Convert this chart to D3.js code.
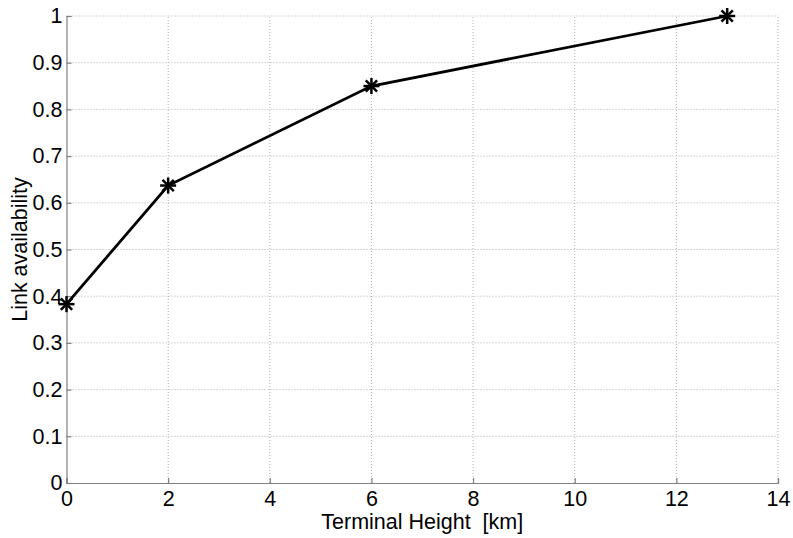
<!DOCTYPE html>
<html>
<head>
<meta charset="utf-8">
<script src="https://cdn.jsdelivr.net/npm/d3@7"></script>
<style>
  body { margin: 0; background: #fff; }
  text { font-family: "Liberation Sans", Arial, sans-serif; }
</style>
</head>
<body>
<script>
// values
let heights = [0, 2, 6, 13];
let availability = [0.383, 0.637, 0.85, 1.0];
let xTicks = [0, 2, 4, 6, 8, 10, 12, 14];
let yTicks = [0, 0.1, 0.2, 0.3, 0.4, 0.5, 0.6, 0.7, 0.8, 0.9, 1];

const width = 793, height = 538;
const margin = {left: 66.5, right: 15, top: 16, bottom: 55};
const fs = "21.5px";

const svg = d3.select("body").append("svg")
    .attr("width", width)
    .attr("height", height);

const x = d3.scaleLinear().domain([0, 14]).range([margin.left, width - margin.right]);
const y = d3.scaleLinear().domain([0, 1]).range([height - margin.bottom, margin.top]);

// grid
svg.append("g").selectAll("line")
    .data(xTicks.slice(1))
    .join("line")
    .attr("x1", d => x(d)).attr("x2", d => x(d))
    .attr("y1", y(0)).attr("y2", y(1))
    .attr("stroke", "#b0b0b0")
    .attr("stroke-dasharray", "1,2");

svg.append("g").selectAll("line")
    .data(yTicks.slice(1))
    .join("line")
    .attr("x1", x(0)).attr("x2", x(14))
    .attr("y1", d => y(d)).attr("y2", d => y(d))
    .attr("stroke", "#b0b0b0")
    .attr("stroke-dasharray", "1,2");

// axes
const xAxis = d3.axisBottom(x).tickValues(xTicks).tickSize(-5).tickPadding(8).tickFormat(d3.format("d"));
const yAxis = d3.axisLeft(y).tickValues(yTicks).tickSize(-5).tickPadding(4)
    .tickFormat(d => d === 0 || d === 1 ? d : d3.format(".1f")(d));

const gx = svg.append("g").attr("transform", `translate(0,${y(0)})`).call(xAxis);
const gy = svg.append("g").attr("transform", `translate(${x(0)},0)`).call(yAxis);

[gx, gy].forEach(g => {
    g.attr("font-size", null).attr("font-family", null);
    g.select(".domain").attr("stroke", "#808080").attr("stroke-width", 1.2);
    g.selectAll(".tick line").attr("stroke", "#808080").attr("stroke-width", 1.2);
    g.selectAll(".tick text").attr("fill", "#000").style("font-size", fs);
});

// line
const line = d3.line().x((d, i) => x(heights[i])).y(d => y(d));
svg.append("path")
    .datum(availability)
    .attr("d", line)
    .attr("fill", "none")
    .attr("stroke", "#000")
    .attr("stroke-width", 2.8);

// star markers
const r = 8;
const markers = svg.append("g").selectAll("g")
    .data(availability)
    .join("g")
    .attr("transform", (d, i) => `translate(${x(heights[i])},${y(d)})`);
[0, 45, 90, 135].forEach(a => {
    markers.append("line")
        .attr("x1", -r * Math.cos(a * Math.PI / 180)).attr("y1", -r * Math.sin(a * Math.PI / 180))
        .attr("x2", r * Math.cos(a * Math.PI / 180)).attr("y2", r * Math.sin(a * Math.PI / 180))
        .attr("stroke", "#000").attr("stroke-width", 2.5);
});

// labels
svg.append("text")
    .attr("x", (x(0) + x(14)) / 2)
    .attr("y", 529)
    .attr("text-anchor", "middle")
    .style("font-size", fs)
    .style("white-space", "pre")
    .text("Terminal Height  [km]");

svg.append("text")
    .attr("transform", `translate(27,${(y(0) + y(1)) / 2}) rotate(-90)`)
    .attr("text-anchor", "middle")
    .style("font-size", fs)
    .text("Link availability");
</script>
</body>
</html>
